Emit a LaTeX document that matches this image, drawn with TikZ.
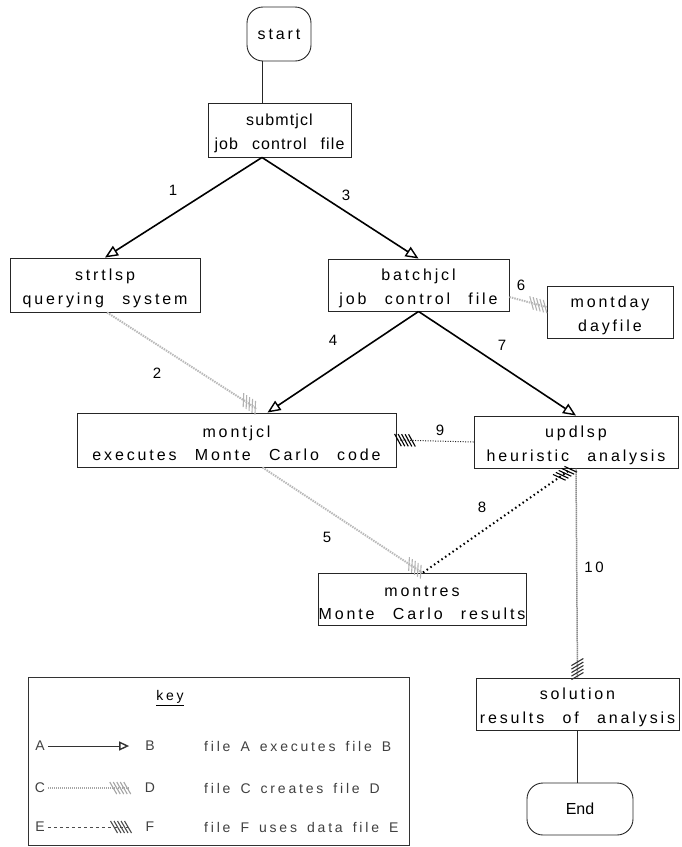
\documentclass[tikz,border=0pt]{standalone}
\usepackage{fontspec}
\setmainfont{Liberation Sans}
\newfontfamily\boxfont{Liberation Sans}[LetterSpace=18,WordSpace=2.5]
\newfontfamily\boxfontn{Liberation Sans}[LetterSpace=7,WordSpace=2.5]
\newfontfamily\keyfont{Liberation Sans}[LetterSpace=20,WordSpace=1.5]
\newcommand\mytopstrut{\rule{0pt}{18.5pt}}
\usetikzlibrary{arrows.meta,decorations.markings,calc}
\tikzset{
  box/.style={draw=black!85, line width=0.9pt, inner sep=0pt, align=center,
    font=\boxfont\fontsize{16}{23.5}\selectfont},
  term/.style={box, rounded corners=16pt},
  lbl/.style={inner sep=0pt, font=\boxfont\fontsize{15}{16}\selectfont},
  keytxt/.style={inner sep=0pt, text=black!75, font=\keyfont\fontsize{14}{16}\selectfont},
  plainline/.style={line width=0.9pt, draw=black!85},
  exec/.style={line width=1.6pt, -{Triangle[open,length=13pt,width=11pt,line width=1.4pt]}},
  hatchmarks/.style={postaction={decorate,decoration={markings,
    mark=at position -1.5pt with {\draw[#1,line width=1.1pt,solid] (-3.5pt,6pt)--(3.5pt,-6pt);},
    mark=at position -5pt with {\draw[#1,line width=1.1pt,solid] (-3.5pt,6pt)--(3.5pt,-6pt);},
    mark=at position -8.5pt with {\draw[#1,line width=1.1pt,solid] (-3.5pt,6pt)--(3.5pt,-6pt);},
    mark=at position -12pt with {\draw[#1,line width=1.1pt,solid] (-3.5pt,6pt)--(3.5pt,-6pt);},
    mark=at position -15.5pt with {\draw[#1,line width=1.1pt,solid] (-3.5pt,6pt)--(3.5pt,-6pt);}}}},
  hatchmarks/.default=black,
  creates/.style={draw=gray!55, line width=2pt, dash pattern=on 1.5pt off 1pt, hatchmarks={gray!60}},
  createsdark/.style={draw=black!70, line width=1.5pt, dash pattern=on 1pt off 1pt, hatchmarks={black!80}},
  usesthin/.style={draw=black!85, line width=1pt, dash pattern=on 1pt off 1.5pt, hatchmarks},
  usesthick/.style={draw=black, line width=2pt, dash pattern=on 1.5pt off 3pt, hatchmarks},
}
\begin{document}
\begin{tikzpicture}[x=1pt,y=-1pt]
\useasboundingbox (0,0) rectangle (681,847);

% nodes
\node[term, minimum width=64pt, minimum height=54pt] (start) at (279,34) {start};
\node[box, minimum width=143pt, minimum height=54pt, font=\boxfontn\fontsize{16}{23.5}\selectfont] (submtjcl) at (279.5,130) {\mytopstrut submtjcl\\job control file};
\node[box, minimum width=190pt, minimum height=54pt] (strtlsp) at (105,285) {\mytopstrut strtlsp\\querying system};
\node[box, minimum width=181pt, minimum height=52pt] (batchjcl) at (418.5,285) {\mytopstrut batchjcl\\job control file};
\node[box, minimum width=126pt, minimum height=52pt] (montday) at (610,312) {\mytopstrut montday\\dayfile};
\node[box, minimum width=319pt, minimum height=54pt] (montjcl) at (236.5,440) {\mytopstrut montjcl\\executes Monte Carlo code};
\node[box, minimum width=204pt, minimum height=52pt] (updlsp) at (576,442) {\mytopstrut updlsp\\heuristic analysis};
\node[box, minimum width=208pt, minimum height=52pt] (montres) at (422,599) {\mytopstrut montres\\Monte Carlo results};
\node[box, minimum width=203pt, minimum height=52pt] (solution) at (577.5,704) {\mytopstrut solution\\results of analysis};
\node[term, minimum width=106pt, minimum height=52pt, font=\fontsize{16}{18}\selectfont] (end) at (580,809) {End};

% connectors
\draw[plainline] ([xshift=-17pt]start.south) -- ([xshift=-17.5pt]submtjcl.north);
\draw[exec] ([xshift=-17.5pt]submtjcl.south) -- (strtlsp.north);
\draw[exec] ([xshift=-17.5pt]submtjcl.south) -- (batchjcl.north);
\draw[exec] (batchjcl.south) -- ([xshift=31pt]montjcl.north);
\draw[exec] (batchjcl.south) -- (updlsp.north);
\draw[creates] ([xshift=2pt]strtlsp.south) -- ([xshift=20pt,yshift=4pt]montjcl.north);
\draw[creates] ([xshift=26pt]montjcl.south) -- (montres.north);
\draw[creates] ([yshift=-12pt]batchjcl.east) -- ([yshift=5pt]montday.west);
\draw[usesthin] (updlsp.west) -- (montjcl.east);
\draw[usesthick] ([xshift=1pt]montres.north) -- ([xshift=-4pt]updlsp.south);
\draw[createsdark] (updlsp.south) -- (solution.north);
\draw[plainline] (solution.south) -- (solution.south |- end.north);

% labels
\node[lbl] (l1) at (173,190) {1};
\node[lbl] (l2) at (157,373) {2};
\node[lbl] (l3) at (346,195) {3};
\node[lbl] (l4) at (333,340) {4};
\node[lbl] (l5) at (327,537) {5};
\node[lbl] (l6) at (521,285) {6};
\node[lbl] (l7) at (502,345) {7};
\node[lbl] (l8) at (482,507) {8};
\node[lbl] (l9) at (440,430) {9};
\node[lbl] (l10) at (594,567) {10};

% key
\node[draw=black!80, line width=0.9pt, minimum width=381pt, minimum height=168pt, inner sep=0pt] (key) at (218.5,761) {};
\node[keytxt, text=black] (keytitle) at (170,698) {\underline{key}};
\node[keytxt] (kA) at (40,746) {A};
\node[keytxt] (kB) at (150,746) {B};
\node[keytxt, anchor=west] (kd1) at (204,746) {file A executes file B};
\node[keytxt] (kC) at (40,788) {C};
\node[keytxt] (kD) at (150,788) {D};
\node[keytxt, anchor=west] (kd2) at (204,788) {file C creates file D};
\node[keytxt] (kE) at (40,827) {E};
\node[keytxt] (kF) at (150,827) {F};
\node[keytxt, anchor=west] (kd3) at (204,827) {file F uses data file E};
\draw[line width=1pt, draw=black!80, -{Triangle[open,length=10pt,width=9pt,line width=1.4pt]}] ([xshift=3pt]kA.east) -- ([xshift=-16pt]kB.west);
\draw[draw=gray!70, line width=1.2pt, dash pattern=on 1pt off 1pt, hatchmarks={gray!70}] ([xshift=3pt]kC.east) -- ([xshift=-16pt]kD.west);
\draw[draw=black!70, line width=1pt, dash pattern=on 3pt off 3pt, hatchmarks={black!70}] ([xshift=3pt]kE.east) -- ([xshift=-16pt]kF.west);
\end{tikzpicture}
\end{document}
